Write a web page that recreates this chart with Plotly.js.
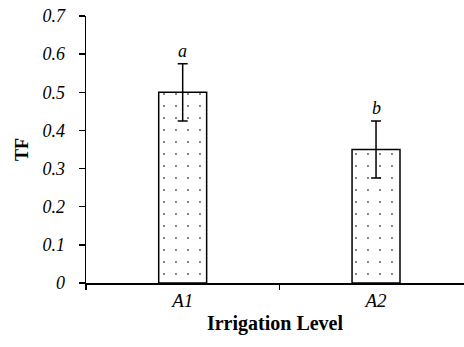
<!DOCTYPE html>
<html>
<head>
<meta charset="utf-8">
<script src="https://cdn.plot.ly/plotly-3.0.1.min.js"></script>
<style>html,body{margin:0;padding:0;background:#fff;}#chart{width:464px;height:347px;}</style>
</head>
<body>
<div id="chart"></div>
<script>
const categories = ['A1', 'A2'];
const tfValues = [0.50, 0.35];
const tfErrors = [0.075, 0.075];
const letters = ['a', 'b'];
const yTickVals = [0, 0.1, 0.2, 0.3, 0.4, 0.5, 0.6, 0.7];
const yTickText = ['0', '0.1', '0.2', '0.3', '0.4', '0.5', '0.6', '0.7'];

const serif = 'Liberation Serif, Times New Roman, serif';

const trace = {
  type: 'bar',
  x: categories,
  y: tfValues,
  width: 0.248,
  marker: {
    color: '#ffffff',
    line: {color: '#000000', width: 1.5},
    pattern: {shape: '.', fgcolor: '#555555', bgcolor: '#ffffff', size: 12, solidity: 0.02, fillmode: 'replace'}
  },
  error_y: {type: 'data', array: tfErrors, visible: true, color: '#000000', thickness: 1.5, width: 5},
  hoverinfo: 'none'
};

const annotations = categories.map((c, i) => ({
  x: c, y: tfValues[i] + tfErrors[i], xref: 'x', yref: 'y',
  text: '<i>' + letters[i] + '</i>', showarrow: false,
  yanchor: 'bottom', yshift: 1,
  font: {family: serif, size: 18, color: '#000'}
}));

const layout = {
  width: 464, height: 347,
  margin: {l: 86, r: 0, t: 16, b: 64},
  paper_bgcolor: '#ffffff', plot_bgcolor: '#ffffff',
  showlegend: false,
  font: {family: serif, color: '#000'},
  xaxis: {
    type: 'category',
    range: [-0.5, 1.455],
    tickson: 'boundaries',
    ticks: 'outside', ticklen: 5, tickwidth: 1.5, tickcolor: '#000',
    showline: true, linecolor: '#000', linewidth: 1.5,
    showgrid: false, zeroline: false,
    tickfont: {family: serif, size: 19, color: '#000', style: 'italic'},
    title: {text: '<b>Irrigation Level</b>', font: {family: serif, size: 20, color: '#000'}, standoff: 5}
  },
  yaxis: {
    range: [0, 0.7],
    tickvals: yTickVals, ticktext: yTickText,
    ticks: 'outside', ticklen: 6, tickwidth: 1.5, tickcolor: '#000',
    ticklabelstandoff: 10,
    showline: true, linecolor: '#000', linewidth: 1.5,
    showgrid: false, zeroline: false,
    tickfont: {family: serif, size: 18, color: '#000', style: 'italic'},
    title: {text: '<b>TF</b>', font: {family: serif, size: 18, color: '#000'}, standoff: 9}
  },
  annotations: annotations
};

Plotly.newPlot('chart', [trace], layout, {displayModeBar: false, staticPlot: true});
</script>
</body>
</html>
